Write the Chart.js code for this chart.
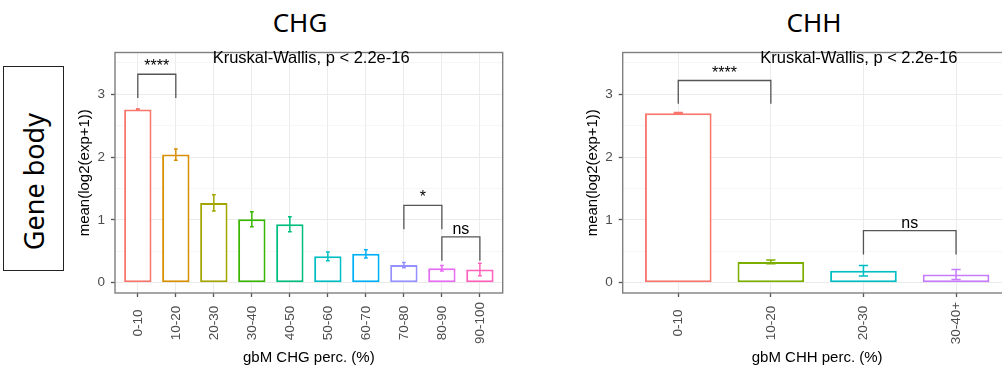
<!DOCTYPE html>
<html>
<head>
<meta charset="utf-8">
<script src="https://cdn.jsdelivr.net/npm/chart.js@4.4.1/dist/chart.umd.min.js"></script>
<style>
body { margin: 0; width: 1002px; height: 369px; overflow: hidden; background: #fff; position: relative; }
canvas { position: absolute; top: 0; }
#chg { left: 0; }
#chh { left: 500px; }
.title { position: absolute; top: 7px; font-family: "Noto Sans", sans-serif; font-size: 26px; line-height: 30px; transform: translateX(-50%); color: #000; }
#rowbox { position: absolute; left: 3px; top: 66px; width: 61px; height: 205px; box-sizing: border-box; border: 1px solid #222;
  display: flex; align-items: center; justify-content: center; }
#rowbox span { position: relative; top: 13px; writing-mode: vertical-rl; transform: rotate(180deg); font-family: "Noto Sans", sans-serif; font-size: 27px; color: #000; }
</style>
</head>
<body>
<div id="rowbox"><span>Gene body</span></div>
<div class="title" style="left:300px">CHG</div>
<div class="title" style="left:814px">CHH</div>
<canvas id="chg" width="505" height="369"></canvas>
<canvas id="chh" width="515" height="369"></canvas>
<script>
// CHG panel
const chgLabels = ["0-10", "10-20", "20-30", "30-40", "40-50", "50-60", "60-70", "70-80", "80-90", "90-100"];
const chgMeans = [2.76, 2.04, 1.27, 1.01, 0.93, 0.42, 0.46, 0.28, 0.23, 0.21];
const chgErr = [0.01, 0.09, 0.13, 0.12, 0.12, 0.07, 0.065, 0.04, 0.045, 0.1];
const chgColors = ["#F8766D", "#D89000", "#A3A500", "#39B600", "#00BF7D", "#00BFC4", "#00B0F6", "#9590FF", "#E76BF3", "#FF62BC"];
const chgBrackets = [
    {from: 0, to: 1, y: 3.32, tip: 2.94, label: "****"},
    {from: 7, to: 8, y: 1.23, tip: 0.85, label: "*"},
    {from: 8, to: 9, y: 0.73, tip: 0.35, label: "ns"}
];

// CHH panel
const chhLabels = ["0-10", "10-20", "20-30", "30-40+"];
const chhMeans = [2.70, 0.33, 0.19, 0.13];
const chhErr = [0.01, 0.03, 0.085, 0.08];
const chhColors = ["#F8766D", "#7CAE00", "#00BFC4", "#C77CFF"];
const chhBrackets = [
    {from: 0, to: 1, y: 3.22, tip: 2.85, label: "****"},
    {from: 2, to: 3, y: 0.83, tip: 0.45, label: "ns"}
];

const kwText = "Kruskal-Wallis, p < 2.2e-16";
const yTicks = [0, 0.5, 1, 1.5, 2, 2.5, 3, 3.5];
const yMin = -0.164, yMax = 3.666;
const FONT = '"Liberation Sans", Arial, sans-serif';

function makeChart(id, labels, means, errs, colors, brackets, kwX, xTitle, box) {
    const extras = {
        id: 'extras',
        afterDatasetsDraw(chart) {
            const {ctx, scales: {x, y}} = chart;
            const half = x.getPixelForValue(0.05) - x.getPixelForValue(0);
            ctx.save();
            ctx.lineWidth = 1.5;
            means.forEach((m, i) => {
                const px = x.getPixelForValue(i);
                const hi = y.getPixelForValue(m + errs[i]);
                const lo = y.getPixelForValue(m - errs[i]);
                ctx.strokeStyle = colors[i];
                ctx.beginPath();
                ctx.moveTo(px, hi); ctx.lineTo(px, lo);
                ctx.moveTo(px - half, hi); ctx.lineTo(px + half, hi);
                ctx.moveTo(px - half, lo); ctx.lineTo(px + half, lo);
                ctx.stroke();
            });
            ctx.restore();
        },
        afterDraw(chart) {
            const {ctx, chartArea: a, scales: {x, y}} = chart;
            ctx.save();
            // panel border
            ctx.strokeStyle = "#7f7f7f";
            ctx.lineWidth = 1.4;
            ctx.strokeRect(a.left, a.top, a.right - a.left, a.bottom - a.top);

            // significance brackets
            ctx.strokeStyle = "#555";
            ctx.lineWidth = 1.3;
            ctx.fillStyle = "#000";
            ctx.font = "16px " + FONT;
            ctx.textAlign = "center";
            ctx.textBaseline = "alphabetic";
            brackets.forEach(b => {
                const x1 = x.getPixelForValue(b.from), x2 = x.getPixelForValue(b.to);
                const yb = y.getPixelForValue(b.y), yt = y.getPixelForValue(b.tip);
                ctx.beginPath();
                ctx.moveTo(x1, yt); ctx.lineTo(x1, yb); ctx.lineTo(x2, yb); ctx.lineTo(x2, yt);
                ctx.stroke();
                ctx.fillText(b.label, (x1 + x2) / 2, yb - 3);
            });

            // global test label
            ctx.font = "16.5px " + FONT;
            ctx.textBaseline = "middle";
            ctx.fillText(kwText, x.getPixelForValue(kwX), y.getPixelForValue(3.57));

            // x tick labels, rotated
            ctx.fillStyle = "#4D4D4D";
            ctx.font = "13.5px " + FONT;
            labels.forEach((l, i) => {
                ctx.save();
                ctx.translate(x.getPixelForValue(i), 323);
                ctx.rotate(-Math.PI / 2);
                ctx.fillText(l, 0, 0);
                ctx.restore();
            });

            // axis titles
            ctx.fillStyle = "#000";
            ctx.font = "15px " + FONT;
            ctx.fillText(xTitle, (a.left + a.right) / 2, 358);
            ctx.save();
            ctx.translate(box.yTitleX, (a.top + a.bottom) / 2);
            ctx.rotate(-Math.PI / 2);
            ctx.fillText("mean(log2(exp+1))", 0, 0);
            ctx.restore();
            ctx.restore();
        }
    };

    return new Chart(id, {
        type: "bar",
        data: {
            labels: labels,
            datasets: [{
                data: means.map((m, i) => ({x: i, y: m})),
                backgroundColor: "#fff",
                borderColor: colors,
                borderWidth: 2,
                borderSkipped: false,
                barPercentage: 0.72,
                categoryPercentage: 1
            }]
        },
        options: {
            responsive: false,
            animation: false,
            layout: {padding: {left: 0, top: box.top, right: box.padRight, bottom: 0}},
            plugins: {legend: {display: false}, tooltip: {enabled: false}},
            scales: {
                x: {
                    type: "linear",
                    min: -0.6,
                    max: labels.length - 0.4,
                    offset: false,
                    afterBuildTicks: s => { s.ticks = labels.map((_, i) => ({value: i})); },
                    afterFit: s => { s.height = 369 - box.bottom; },
                    ticks: {display: false},
                    grid: {offset: false, color: "#EBEBEB", lineWidth: 1, tickLength: 4, tickColor: "#555", tickWidth: 1.3},
                    border: {display: false}
                },
                y: {
                    min: yMin,
                    max: yMax,
                    afterBuildTicks: s => { s.ticks = yTicks.map(v => ({value: v})); },
                    afterFit: s => { s.width = box.left; },
                    ticks: {
                        color: "#4D4D4D",
                        font: {family: FONT, size: 13.5},
                        padding: 6,
                        callback: v => (v % 1 === 0 ? v : "")
                    },
                    grid: {
                        color: c => (c.tick && c.tick.value % 1 === 0 ? "#EBEBEB" : "#F4F4F4"),
                        lineWidth: c => (c.tick && c.tick.value % 1 === 0 ? 1 : 0.8),
                        tickColor: c => (c.tick && c.tick.value % 1 === 0 ? "#555" : "rgba(0,0,0,0)"),
                        tickLength: 4,
                        tickWidth: 1.3
                    },
                    border: {display: false}
                }
            }
        },
        plugins: [extras]
    });
}

makeChart("chg", chgLabels, chgMeans, chgErr, chgColors, chgBrackets, 4.56, "gbM CHG perc. (%)",
    {left: 115, top: 52.5, padRight: 2.3, bottom: 293, yTitleX: 85});
makeChart("chh", chhLabels, chhMeans, chhErr, chhColors, chhBrackets, 1.95, "gbM CHH perc. (%)",
    {left: 122.7, top: 52.5, padRight: 3.4, bottom: 293, yTitleX: 93});
</script>
</body>
</html>
